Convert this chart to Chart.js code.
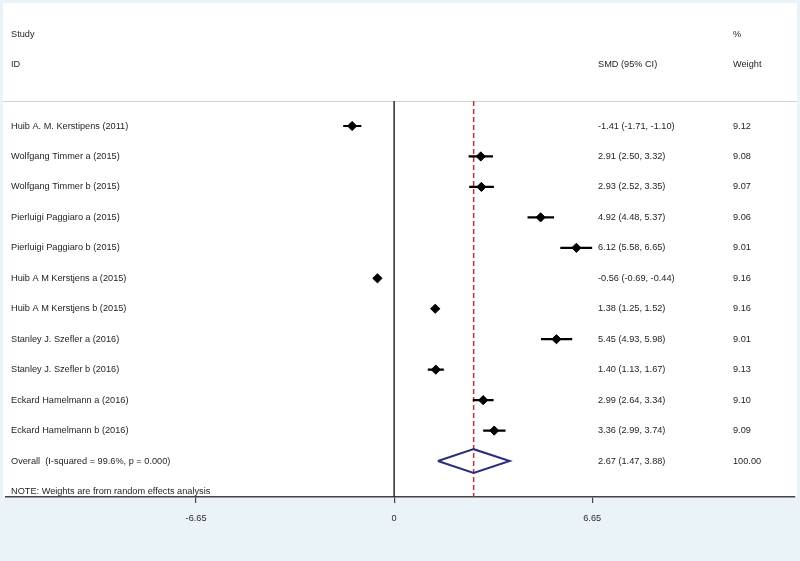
<!DOCTYPE html>
<html>
<head>
<meta charset="utf-8">
<script src="https://cdn.jsdelivr.net/npm/chart.js@4.4.1/dist/chart.umd.min.js"></script>
<style>
  html, body { margin: 0; padding: 0; background: #ffffff; }
  #wrap { width: 800px; height: 561px; position: relative; }
</style>
</head>
<body>
<div id="wrap"><canvas id="c" width="800" height="561"></canvas></div>
<script>
// ---- data ----
const studies = [
  "Huib A. M. Kerstipens (2011)",
  "Wolfgang Timmer a (2015)",
  "Wolfgang Timmer b (2015)",
  "Pierluigi Paggiaro a (2015)",
  "Pierluigi Paggiaro b (2015)",
  "Huib A M Kerstjens a (2015)",
  "Huib A M Kerstjens b (2015)",
  "Stanley J. Szefler a (2016)",
  "Stanley J. Szefler b (2016)",
  "Eckard Hamelmann a (2016)",
  "Eckard Hamelmann b (2016)"
];
const smd    = [-1.41, 2.91, 2.93, 4.92, 6.12, -0.56, 1.38, 5.45, 1.40, 2.99, 3.36];
const lower  = [-1.71, 2.50, 2.52, 4.48, 5.58, -0.69, 1.25, 4.93, 1.13, 2.64, 2.99];
const upper  = [-1.10, 3.32, 3.35, 5.37, 6.65, -0.44, 1.52, 5.98, 1.67, 3.34, 3.74];
const weights = ["9.12", "9.08", "9.07", "9.06", "9.01", "9.16", "9.16", "9.01", "9.13", "9.10", "9.09"];
const overallLabel = "Overall  (I-squared = 99.6%, p = 0.000)";
const overall = [2.67, 1.47, 3.88];
const overallWeight = "100.00";
const noteText = "NOTE: Weights are from random effects analysis";
const xTicks = [-6.65, 0, 6.65];

// ---- helpers ----
const fmt = v => v.toFixed(2);
const ciText = (e, l, u) => `${fmt(e)} (${fmt(l)}, ${fmt(u)})`;
const nRows = studies.length;          // overall row index = nRows
const yMin = -0.82, yMax = 12.18;

const datasets = [];
// vertical no-effect line at 0
datasets.push({
  type: 'line', data: [{x: 0, y: yMin}, {x: 0, y: yMax}],
  borderColor: '#1a1a1a', borderWidth: 1.4, pointRadius: 0, order: 5
});
// dashed overall line
datasets.push({
  type: 'line', data: [{x: overall[0], y: yMin}, {x: overall[0], y: yMax}],
  borderColor: '#c62f2f', borderWidth: 1.5, borderDash: [5, 3], pointRadius: 0, order: 4
});
// CI lines
studies.forEach((s, i) => {
  datasets.push({
    type: 'line', data: [{x: lower[i], y: i}, {x: upper[i], y: i}],
    borderColor: '#000', borderWidth: 2.2, pointRadius: 0, order: 2
  });
});
// point estimates
datasets.push({
  type: 'scatter', data: smd.map((v, i) => ({x: v, y: i})),
  pointStyle: 'rectRot', pointRadius: 4.6, pointHoverRadius: 4.6,
  backgroundColor: '#000', borderColor: '#000', borderWidth: 1, order: 1
});
// overall diamond
const dh = 0.39;
datasets.push({
  type: 'line',
  data: [
    {x: overall[1], y: nRows}, {x: overall[0], y: nRows - dh},
    {x: overall[2], y: nRows}, {x: overall[0], y: nRows + dh},
    {x: overall[1], y: nRows}
  ],
  borderColor: '#2b2f7e', borderWidth: 2, pointRadius: 0, tension: 0, order: 0
});

const bgPlugin = {
  id: 'bg',
  beforeDraw(chart) {
    const ctx = chart.ctx, a = chart.chartArea;
    ctx.save();
    ctx.fillStyle = '#eaf3f8';
    ctx.fillRect(0, 0, chart.width, chart.height);
    ctx.fillStyle = '#ffffff';
    ctx.fillRect(3, 3, chart.width - 6, a.bottom - 3);
    // header separator
    ctx.strokeStyle = '#cfd3d6';
    ctx.lineWidth = 1;
    ctx.beginPath();
    ctx.moveTo(3, a.top + 0.5);
    ctx.lineTo(chart.width - 3, a.top + 0.5);
    ctx.stroke();
    ctx.restore();
  }
};

const textPlugin = {
  id: 'texts',
  afterDraw(chart) {
    const ctx = chart.ctx, ys = chart.scales.y;
    ctx.save();
    ctx.fillStyle = '#1e1e1e';
    ctx.font = '9.2px "Liberation Sans", Arial, sans-serif';
    ctx.textBaseline = 'middle';
    ctx.textAlign = 'left';
    const colL = 11, colS = 598, colW = 733;
    // header
    ctx.fillText('Study', colL, ys.getPixelForValue(-3.0));
    ctx.fillText('ID', colL, ys.getPixelForValue(-2.03));
    ctx.fillText('%', colW, ys.getPixelForValue(-3.0));
    ctx.fillText('SMD (95% CI)', colS, ys.getPixelForValue(-2.03));
    ctx.fillText('Weight', colW, ys.getPixelForValue(-2.03));
    // rows
    studies.forEach((s, i) => {
      const y = ys.getPixelForValue(i);
      ctx.fillText(s, colL, y);
      ctx.fillText(ciText(smd[i], lower[i], upper[i]), colS, y);
      ctx.fillText(weights[i], colW, y);
    });
    const yo = ys.getPixelForValue(nRows);
    ctx.fillText(overallLabel, colL, yo);
    ctx.fillText(ciText(overall[0], overall[1], overall[2]), colS, yo);
    ctx.fillText(overallWeight, colW, yo);
    ctx.fillText(noteText, colL, ys.getPixelForValue(nRows + 1));
    ctx.restore();
  }
};

new Chart(document.getElementById('c'), {
  data: { datasets },
  options: {
    responsive: false,
    animation: false,
    events: [],
    layout: { padding: { top: 101, left: 0, right: 0, bottom: 0 } },
    plugins: { legend: { display: false }, tooltip: { enabled: false } },
    scales: {
      x: {
        type: 'linear', position: 'bottom',
        min: -13.045, max: 13.44,
        afterBuildTicks: sc => { sc.ticks = xTicks.map(v => ({value: v})); },
        afterFit: sc => { sc.height = 64; },
        ticks: {
          autoSkip: false, maxRotation: 0, padding: 10,
          color: '#2a2a2a', font: { family: '"Liberation Sans", Arial, sans-serif', size: 9.2 },
          callback: v => (v === 0 ? '0' : v.toFixed(2))
        },
        grid: { drawOnChartArea: false, drawTicks: true, tickLength: 6, color: '#444', lineWidth: 1.2 },
        border: { display: true, color: '#444', width: 1.6 }
      },
      y: {
        type: 'linear', reverse: true, min: yMin, max: yMax, display: false
      }
    }
  },
  plugins: [bgPlugin, textPlugin]
});
</script>
</body>
</html>
